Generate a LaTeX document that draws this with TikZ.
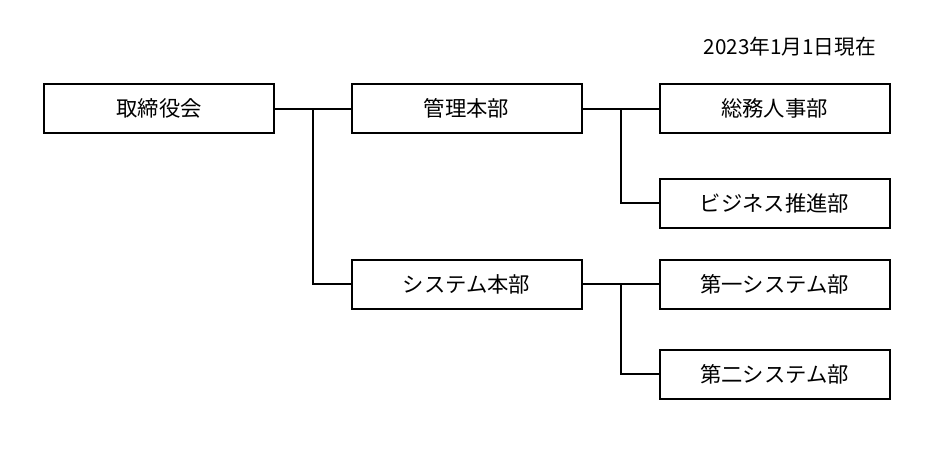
\documentclass[tikz,border=0pt]{standalone}
\usepackage{fontspec}
\setmainfont{Noto Sans CJK JP}
\begin{document}
\begin{tikzpicture}[x=0.75pt,y=-0.75pt,
  box/.style={draw=black,line width=1.5pt,minimum width=230*0.75pt,minimum height=49*0.75pt,inner sep=0pt,font=\fontsize{16pt}{19pt}\selectfont},
  conn/.style={draw=black,line width=1.5pt}]
\useasboundingbox (0,0) rectangle (937,469);
\node[box] (board) at (159,108.5) {取締役会};
\node[box] (kanri) at (466.5,108.5) {管理本部};
\node[box] (somu) at (774.5,108.5) {総務人事部};
\node[box] (biz) at (774.5,203) {ビジネス推進部};
\node[box] (sys) at (466.5,284) {システム本部};
\node[box] (sys1) at (774.5,284) {第一システム部};
\node[box] (sys2) at (774.5,374) {第二システム部};
\node[anchor=east,inner sep=0pt,font=\fontsize{15.5pt}{18pt}\selectfont] (date) at (876,47) {2023年1月1日現在};
\coordinate (j1) at (313,108.5);
\coordinate (j2) at (621,108.5);
\coordinate (j3) at (621,284);
\draw[conn] (board.east) -- (kanri.west);
\draw[conn] (j1) |- (sys.west);
\draw[conn] (kanri.east) -- (somu.west);
\draw[conn] (j2) |- (biz.west);
\draw[conn] (sys.east) -- (sys1.west);
\draw[conn] (j3) |- (sys2.west);
\end{tikzpicture}
\end{document}
